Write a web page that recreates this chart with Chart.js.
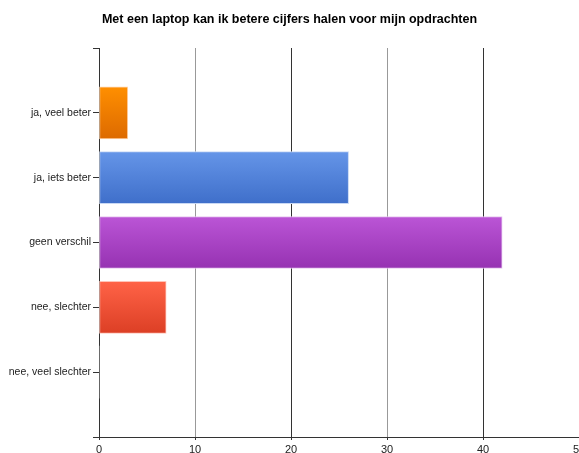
<!DOCTYPE html>
<html>
<head>
<meta charset="utf-8">
<script src="https://cdn.jsdelivr.net/npm/chart.js@4/dist/chart.umd.min.js"></script>
<style>
  html, body { margin: 0; padding: 0; background: #fff; }
  #wrap { width: 579px; height: 453px; }
</style>
</head>
<body>
<div id="wrap"><canvas id="laptop-chart" width="579" height="453"></canvas></div>
<script>
// answers, with an empty slot above and below so the ticks sit on the lines
const categories = ["", "ja, veel beter", "ja, iets beter", "geen verschil", "nee, slechter", "nee, veel slechter", ""];
const counts = [null, 3, 26, 42, 7, 0, null];
const xTicks = [0, 10, 20, 30, 40, 50];

// top / bottom / edge colour per bar
const barTop = [null, "#ff8f00", "#6595e8", "#bb55d6", "#ff6347", "#e0e0e0", null];
const barBottom = [null, "#dd6a00", "#3f6fca", "#9632b2", "#dc3f25", "#c0c0c0", null];
const barEdge = [null, "#ffd2a8", "#c8d8f4", "#e6c6ef", "#ffc4b8", "#ffffff", null];

const canvas = document.getElementById("laptop-chart");

function barFill(context) {
  const i = context.dataIndex;
  const chart = context.chart;
  const yScale = chart.scales.y;
  if (!yScale || !barTop[i]) return barTop[i] || "transparent";
  const yc = yScale.getPixelForValue(i);
  const g = chart.ctx.createLinearGradient(0, yc - 26, 0, yc + 26);
  g.addColorStop(0, barTop[i]);
  g.addColorStop(1, barBottom[i]);
  return g;
}

new Chart(canvas, {
  type: "bar",
  data: {
    labels: categories,
    datasets: [{
      data: counts,
      backgroundColor: barFill,
      borderColor: (ctx) => barEdge[ctx.dataIndex] || "transparent",
      borderWidth: (ctx) => (counts[ctx.dataIndex] ? 1 : 0),
      borderSkipped: false,
      barThickness: 52
    }]
  },
  options: {
    indexAxis: "y",
    responsive: false,
    animation: false,
    layout: { padding: { left: 0, right: 0, top: 0, bottom: 0 } },
    plugins: {
      legend: { display: false },
      tooltip: { enabled: false },
      title: {
        display: true,
        text: "Met een laptop kan ik betere cijfers halen voor mijn opdrachten",
        color: "#000",
        font: { family: "Arial, 'Liberation Sans'", size: 12.5, weight: "bold" },
        padding: { top: 12, bottom: 21 }
      }
    },
    scales: {
      x: {
        min: 0,
        max: 50,
        afterBuildTicks: (scale) => { scale.ticks = xTicks.map((v) => ({ value: v })); },
        afterFit: (scale) => {
          scale.height = 16;
          scale.paddingLeft = 0;
          scale.paddingRight = 0;
        },
        grid: {
          color: (ctx) => {
            const v = ctx.tick ? ctx.tick.value : 0;
            if (v === 0) return "#333";
            return v % 20 === 0 ? "#333" : "#999";
          },
          tickLength: 3,
          tickColor: "#333"
        },
        border: { display: true, color: "#333" },
        ticks: {
          color: "#222",
          padding: 3,
          maxRotation: 0,
          autoSkip: false,
          font: { family: "Arial, 'Liberation Sans'", size: 11 }
        }
      },
      y: {
        offset: false,
        afterFit: (scale) => { scale.width = 99; },
        grid: {
          offset: false,
          drawOnChartArea: false,
          drawTicks: true,
          tickLength: 6,
          tickColor: "#333"
        },
        border: { display: true, color: "#333" },
        ticks: {
          color: "#222",
          padding: 2,
          autoSkip: false,
          font: { family: "Arial, 'Liberation Sans'", size: 10.5 }
        }
      }
    }
  }
});
</script>
</body>
</html>
